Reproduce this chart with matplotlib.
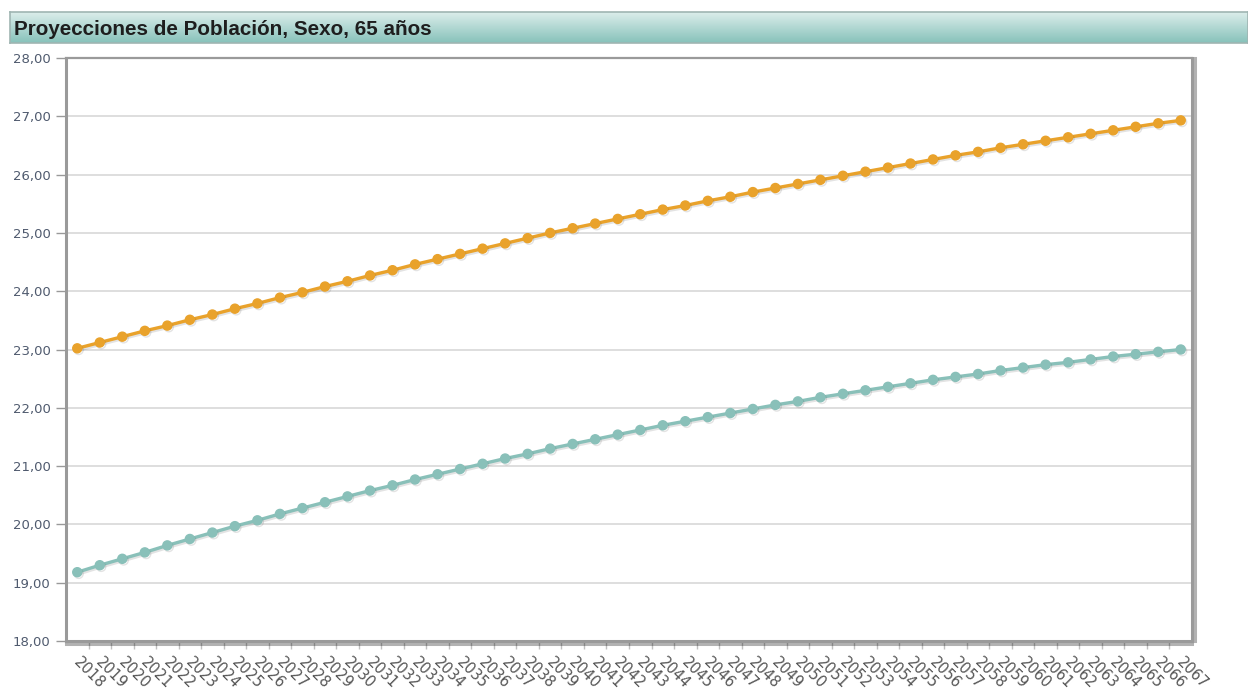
import numpy as np
import matplotlib
matplotlib.use('Agg')
import matplotlib.pyplot as plt
import matplotlib.patheffects as pe
import matplotlib.transforms as mtransforms
from matplotlib.ticker import FixedLocator, FuncFormatter

# Chart data
title = 'Proyecciones de Población, Sexo, 65 años'
years = list(range(2018, 2068))
mujeres = [23.02, 23.12, 23.22, 23.32, 23.41, 23.51, 23.60, 23.70, 23.79, 23.89,
           23.98, 24.08, 24.17, 24.27, 24.36, 24.46, 24.55, 24.64, 24.73, 24.82,
           24.91, 25.00, 25.08, 25.16, 25.24, 25.32, 25.40, 25.47, 25.55, 25.62,
           25.70, 25.77, 25.84, 25.91, 25.98, 26.05, 26.12, 26.19, 26.26, 26.33,
           26.39, 26.46, 26.52, 26.58, 26.64, 26.70, 26.76, 26.82, 26.88, 26.93]
hombres = [19.18, 19.30, 19.41, 19.52, 19.64, 19.75, 19.86, 19.97, 20.07, 20.18,
           20.28, 20.38, 20.48, 20.58, 20.67, 20.77, 20.86, 20.95, 21.04, 21.13,
           21.21, 21.30, 21.38, 21.46, 21.54, 21.62, 21.70, 21.77, 21.84, 21.91,
           21.98, 22.05, 22.11, 22.18, 22.24, 22.30, 22.36, 22.42, 22.48, 22.53,
           22.58, 22.64, 22.69, 22.74, 22.78, 22.83, 22.88, 22.92, 22.96, 23.00]
y_ticks = list(range(18, 29))

W, H = 1248, 694
fig = plt.figure(figsize=(W / 100, H / 100), dpi=100)

# Title bar with vertical gradient
tax = fig.add_axes([10 / W, 1 - 43 / H, 1238 / W, 31 / H])
grad = np.linspace(0, 1, 64).reshape(-1, 1)
top_c = np.array([0.86, 0.93, 0.92])
bot_c = np.array([0.53, 0.76, 0.73])
img = top_c + (bot_c - top_c) * grad[:, :, None]
tax.imshow(img, aspect='auto', extent=[0, 1, 0, 1])
tax.set_xticks([])
tax.set_yticks([])
for s in tax.spines.values():
    s.set_color('#9fb5b2')
    s.set_linewidth(1.2)
tax.text(0.003, 0.42, title, transform=tax.transAxes, fontsize=14.9,
         fontweight='bold', family='Liberation Sans', color='#1e1e1e',
         va='center', ha='left')

# Main plot
ax = fig.add_axes([66 / W, 1 - 641 / H, 1126 / W, 583 / H])
shadow = [pe.SimpleLineShadow(offset=(1, -1.2), alpha=0.15, shadow_color='#444'), pe.Normal()]
ax.plot(years, mujeres, color='#e9a22b', lw=2.4, marker='o', ms=6.5,
        path_effects=shadow, zorder=3, clip_on=False)
ax.plot(years, hombres, color='#89c0b9', lw=2.4, marker='o', ms=6.5,
        path_effects=shadow, zorder=3, clip_on=False)

ax.set_xlim(years[0] - 0.5, years[-1] + 0.5)
ax.set_ylim(18, 28)
ax.set_yticks(y_ticks)
ax.yaxis.set_major_formatter(FuncFormatter(lambda v, p: f'{v:.2f}'.replace('.', ',')))
ax.grid(axis='y', color='#d4d4d4', lw=1.1)
ax.set_axisbelow(True)

ax.set_xticks(years)
ax.set_xticklabels([str(y) for y in years], rotation=-45, ha='left', va='top',
                   rotation_mode='anchor', fontsize=10.5, color='#555555')
ax.tick_params(axis='x', which='major', length=0, pad=10)
shift = mtransforms.ScaledTranslation(4 / 100, 0, fig.dpi_scale_trans)
for lbl in ax.get_xticklabels():
    lbl.set_transform(lbl.get_transform() + shift)
ax.xaxis.set_minor_locator(FixedLocator([y + 0.5 for y in years[:-1]]))
ax.tick_params(axis='x', which='minor', length=6, color='#c0c0c0', width=1)
ax.tick_params(axis='y', length=7, color='#999999', width=1, labelsize=9.5,
               labelcolor='#4f5a6e', pad=4)

for s in ax.spines.values():
    s.set_color('#9a9a9a')
    s.set_linewidth(1.6)
ax.spines['left'].set_linewidth(2.2)
ax.spines['bottom'].set_linewidth(2.2)
ax.spines['right'].set_linewidth(2.2)
ax.spines['right'].set_path_effects([pe.SimpleLineShadow(offset=(2, 0), alpha=0.3), pe.Normal()])
ax.spines['bottom'].set_path_effects([pe.SimpleLineShadow(offset=(0, -2), alpha=0.3), pe.Normal()])

fig.savefig('out.png', dpi=100)
